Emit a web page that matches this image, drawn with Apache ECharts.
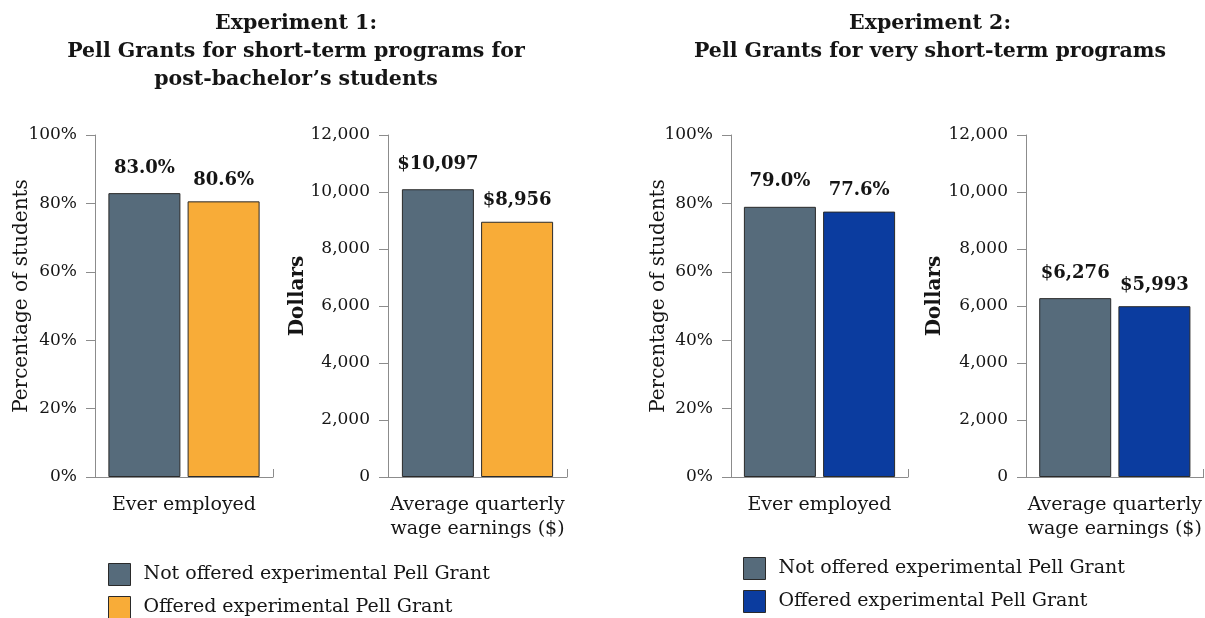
<!DOCTYPE html>
<html>
<head>
<meta charset="utf-8">
<title>Pell Grant experiments</title>
<script src="https://cdn.jsdelivr.net/npm/echarts@6/dist/echarts.min.js"></script>
<style>
  html, body { margin: 0; padding: 0; background: #fff; }
  #chart { width: 1205px; height: 618px; }
</style>
</head>
<body>
<div id="chart"></div>
<script>
// data
const seriesNames = ["Not offered experimental Pell Grant", "Offered experimental Pell Grant"];
const employedCategory = ["Ever employed"];
const wageCategory = ["Average quarterly\nwage earnings ($)"];
const exp1Employed = [83.0, 80.6];
const exp1Wages = [10097, 8956];
const exp2Employed = [79.0, 77.6];
const exp2Wages = [6276, 5993];
const pctTicks = { min: 0, max: 100, interval: 20 };
const dollarTicks = { min: 0, max: 12000, interval: 2000 };

const FONT = "DejaVu Serif";
const GRAY = "#566b7b";
const ORANGE = "#f8ac38";
const BLUE = "#0b3c9f";
const AXIS = "#8c8c8c";
const TEXT = "#151515";

const chart = echarts.init(document.getElementById("chart"));

// one panel = one grid with a single category and two bars
const panels = [
  { left: 95, width: 178, cat: employedCategory, values: exp1Employed, pct: true, colors: [GRAY, ORANGE], yName: "Percentage of students", nameGap: 63 },
  { left: 388, width: 179, cat: wageCategory, values: exp1Wages, pct: false, colors: [GRAY, ORANGE], yName: "Dollars", nameGap: 80 },
  { left: 731, width: 177, cat: employedCategory, values: exp2Employed, pct: true, colors: [GRAY, BLUE], yName: "Percentage of students", nameGap: 62 },
  { left: 1026, width: 178, cat: wageCategory, values: exp2Wages, pct: false, colors: [GRAY, BLUE], yName: "Dollars", nameGap: 81 }
];

const fmtPct = v => v.toFixed(1) + "%";
const fmtDollar = v => "$" + v.toLocaleString("en-US");

const grid = panels.map(p => ({ left: p.left, width: p.width, top: 135, height: 342 }));

const xAxis = panels.map((p, i) => ({
  type: "category",
  gridIndex: i,
  data: p.cat,
  axisLine: { lineStyle: { color: AXIS, width: 1 } },
  axisTick: { show: true, inside: true, length: 8, lineStyle: { color: AXIS } },
  axisLabel: { color: TEXT, fontFamily: FONT, fontSize: 19, lineHeight: 24, margin: 16 }
}));

const yAxis = panels.map((p, i) => {
  const t = p.pct ? pctTicks : dollarTicks;
  return {
    type: "value",
    gridIndex: i,
    min: t.min,
    max: t.max,
    interval: t.interval,
    name: p.yName,
    nameLocation: "middle",
    nameRotate: 90,
    nameGap: p.nameGap,
    nameMoveOverlap: false,
    nameTextStyle: {
      color: TEXT,
      fontFamily: FONT,
      fontSize: 20,
      fontWeight: p.pct ? "normal" : "bold",
      padding: [0, 0, 0, 20]
    },
    axisLine: { show: true, lineStyle: { color: AXIS, width: 1 } },
    axisTick: { show: true, inside: false, length: 9, lineStyle: { color: AXIS } },
    splitLine: { show: false },
    axisLabel: {
      color: TEXT,
      fontFamily: FONT,
      fontSize: 17,
      margin: 18,
      formatter: v => p.pct ? v + "%" : v.toLocaleString("en-US")
    }
  };
});

const series = [];
panels.forEach((p, i) => {
  p.values.forEach((v, s) => {
    series.push({
      type: "bar",
      name: seriesNames[s],
      xAxisIndex: i,
      yAxisIndex: i,
      data: [v],
      barWidth: 72,
      barGap: "10%",
      itemStyle: { color: p.colors[s], borderColor: "#2a2a2a", borderWidth: 1 },
      label: {
        show: true,
        position: "top",
        distance: s === 0 ? 16 : 12,
        color: TEXT,
        fontFamily: FONT,
        fontSize: 18,
        fontWeight: "bold",
        formatter: d => p.pct ? fmtPct(d.value) : fmtDollar(d.value)
      },
      emphasis: { disabled: true }
    });
  });
});

const legendCommon = {
  orient: "vertical",
  icon: "rect",
  itemWidth: 22,
  itemHeight: 22,
  itemGap: 10,
  padding: 0,
  height: 60,
  selectedMode: false,
  itemStyle: { borderColor: "#2a2a2a", borderWidth: 1 },
  textStyle: { color: TEXT, fontFamily: FONT, fontSize: 19, padding: [0, 0, 0, 8] }
};

const titleStyle = { fontFamily: FONT, fontSize: 20.5, fontWeight: "bold", color: TEXT, lineHeight: 28 };

const option = {
  animation: false,
  title: [
    {
      text: "Experiment 1:\nPell Grants for short-term programs for\npost-bachelor\u2019s students",
      left: 291,
      top: 5,
      textAlign: "center",
      textStyle: titleStyle
    },
    {
      text: "Experiment 2:\nPell Grants for very short-term programs",
      left: 925,
      top: 5,
      textAlign: "center",
      textStyle: titleStyle
    }
  ],
  legend: [
    Object.assign({}, legendCommon, {
      left: 108,
      top: 563,
      data: [
        { name: seriesNames[0], itemStyle: { color: GRAY } },
        { name: seriesNames[1], itemStyle: { color: ORANGE } }
      ]
    }),
    Object.assign({}, legendCommon, {
      left: 743,
      top: 557,
      data: [
        { name: seriesNames[0], itemStyle: { color: GRAY } },
        { name: seriesNames[1], itemStyle: { color: BLUE } }
      ]
    })
  ],
  grid: grid,
  xAxis: xAxis,
  yAxis: yAxis,
  series: series
};

chart.setOption(option);
</script>
</body>
</html>
